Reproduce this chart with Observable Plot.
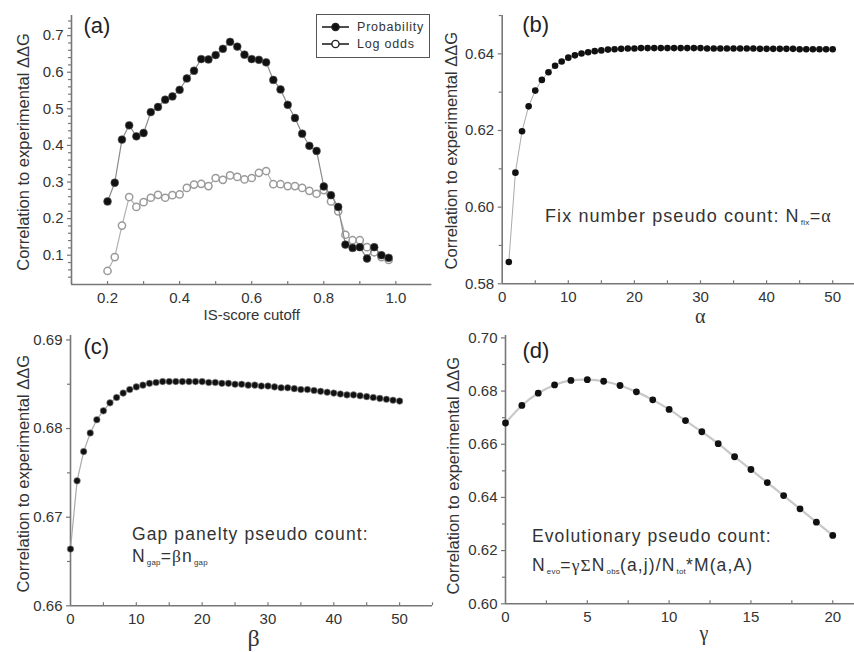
<!DOCTYPE html>
<html><head><meta charset="utf-8">
<script src="https://cdn.jsdelivr.net/npm/d3@7"></script>
<script src="https://cdn.jsdelivr.net/npm/@observablehq/plot@0.6"></script>
<style>
body{margin:0;background:#fff;}
#wrap{position:relative;width:854px;height:652px;overflow:hidden;background:#fff;font-family:"Liberation Sans",Arial,sans-serif;color:#333;}
.panel{position:absolute;}
.panel svg{background:transparent;overflow:visible;display:block;}
.note{position:absolute;white-space:nowrap;line-height:1;color:#333;letter-spacing:1.1px;}
.note sub{font-size:0.45em;vertical-align:baseline;position:relative;top:0.3em;margin-left:1px;letter-spacing:0.3px;}
.greek{font-family:"Liberation Serif","DejaVu Serif",serif;}
#legend{position:absolute;left:316px;top:14px;width:114px;height:44px;border:1px solid #555;box-sizing:border-box;font-size:12.5px;letter-spacing:0.8px;color:#333;}
#legend .row{position:absolute;left:5px;height:14px;line-height:14px;display:flex;align-items:center;}
#legend svg{margin-right:8px;}
</style>
</head><body>
<div id="wrap"></div>
<script>
// ---------- Panel (a) data ----------
const isCutoff = [0.20,0.22,0.24,0.26,0.28,0.30,0.32,0.34,0.36,0.38,0.40,0.42,0.44,0.46,0.48,0.50,0.52,0.54,0.56,0.58,0.60,0.62,0.64,0.66,0.68,0.70,0.72,0.74,0.76,0.78,0.80,0.82,0.84,0.86,0.88,0.90,0.92,0.94,0.96,0.98];
const probability = [0.247,0.298,0.416,0.455,0.425,0.434,0.491,0.505,0.525,0.534,0.552,0.583,0.604,0.636,0.635,0.647,0.664,0.683,0.670,0.648,0.636,0.634,0.627,0.579,0.553,0.511,0.475,0.432,0.399,0.385,0.288,0.264,0.232,0.129,0.120,0.122,0.091,0.122,0.100,0.093];
const logOdds = [0.057,0.095,0.181,0.259,0.232,0.245,0.257,0.265,0.257,0.264,0.266,0.284,0.293,0.295,0.289,0.311,0.306,0.318,0.314,0.307,0.311,0.325,0.330,0.294,0.294,0.289,0.289,0.284,0.276,0.268,0.278,0.247,0.220,0.156,0.141,0.141,0.122,0.108,0.095,0.087];
const seriesNames = ["Probability","Log odds"];

// ---------- Panel (b) data ----------
const alphaX = [1,2,3,4,5,6,7,8,9,10,11,12,13,14,15,16,17,18,19,20,21,22,23,24,25,26,27,28,29,30,31,32,33,34,35,36,37,38,39,40,41,42,43,44,45,46,47,48,49,50];
const alphaCorr = [0.5857,0.6090,0.6198,0.6263,0.6304,0.6332,0.6352,0.6369,0.6380,0.6390,0.6396,0.6401,0.6404,0.6407,0.6409,0.6411,0.6412,0.6413,0.6414,0.6414,0.6415,0.6415,0.6415,0.6415,0.6415,0.6415,0.6415,0.6415,0.6415,0.6415,0.6414,0.6414,0.6414,0.6414,0.6414,0.6414,0.6414,0.6414,0.6413,0.6413,0.6413,0.6413,0.6413,0.6413,0.6412,0.6412,0.6412,0.6412,0.6412,0.6412];

// ---------- Panel (c) data ----------
const betaX = [0,1,2,3,4,5,6,7,8,9,10,11,12,13,14,15,16,17,18,19,20,21,22,23,24,25,26,27,28,29,30,31,32,33,34,35,36,37,38,39,40,41,42,43,44,45,46,47,48,49,50];
const betaCorr = [0.6664,0.6741,0.6774,0.6795,0.6810,0.6820,0.6829,0.6835,0.6840,0.6844,0.6847,0.6849,0.6851,0.6852,0.6853,0.6853,0.6853,0.6853,0.6853,0.6853,0.6853,0.6852,0.6852,0.6851,0.6851,0.6850,0.6850,0.6849,0.6849,0.6848,0.6848,0.6847,0.6846,0.6846,0.6845,0.6844,0.6844,0.6843,0.6842,0.6841,0.6840,0.6839,0.6838,0.6838,0.6837,0.6836,0.6835,0.6834,0.6833,0.6832,0.6831];

// ---------- Panel (d) data ----------
const gammaX = [0,1,2,3,4,5,6,7,8,9,10,11,12,13,14,15,16,17,18,19,20];
const gammaCorr = [0.6680,0.6746,0.6792,0.6823,0.6840,0.6843,0.6837,0.6821,0.6797,0.6767,0.6731,0.6689,0.6647,0.6602,0.6553,0.6505,0.6456,0.6407,0.6357,0.6307,0.6257];

// ---------- Tick labels ----------
const aTicksX = [0.2,0.4,0.6,0.8,1.0];
const aMinorX = [0.1,0.2,0.3,0.4,0.5,0.6,0.7,0.8,0.9,1.0];
const aTicksY = [0.1,0.2,0.3,0.4,0.5,0.6,0.7];
const aMinorY = [0.04,0.06,0.08,0.12,0.14,0.16,0.18,0.22,0.24,0.26,0.28,0.32,0.34,0.36,0.38,0.42,0.44,0.46,0.48,0.52,0.54,0.56,0.58,0.62,0.64,0.66,0.68,0.72,0.74];
const bTicksX = [0,10,20,30,40,50];
const bMinorX = [5,10,15,20,25,30,35,40,45,50];
const bTicksY = [0.58,0.60,0.62,0.64];
const bMinorY = [0.59,0.61,0.63,0.65];
const cTicksX = [0,10,20,30,40,50];
const cMinorX = [5,10,15,20,25,30,35,40,45,50,55];
const cTicksY = [0.66,0.67,0.68,0.69];
const cMinorY = [0.665,0.675,0.685];
const dTicksX = [0,5,10,15,20];
const dMinorX = [2.5,5,7.5,10,12.5,15,17.5,20];
const dTicksY = [0.60,0.62,0.64,0.66,0.68,0.70];
const dMinorY = [0.61,0.63,0.65,0.67,0.69];

const yLabel = "Correlation to experimental \u0394\u0394G";
const FONT = '"Liberation Sans", Arial, sans-serif';
const SERIF = '"Liberation Serif", "DejaVu Serif", serif';
const AX = "#777";

function frameAxes(o) {
  const [x0] = o.xDomain, [y0] = o.yDomain;
  return [
    Plot.axisY(o.minorY, {tickSize: 3, fill: "none", stroke: AX, strokeWidth: 1.2}),
    Plot.axisY(o.ticksY, {tickSize: 4, tickPadding: 4, tickFormat: o.fmtY, stroke: AX, strokeWidth: 1.2, fill: "#333", label: null}),
    Plot.axisX(o.minorX, {tickSize: -3, fill: "none", stroke: AX, strokeWidth: 1.2}),
    Plot.axisX(o.ticksX, {tickSize: 0, tickPadding: 8, tickFormat: o.fmtX, fill: "#333", label: null}),
    Plot.ruleX([x0], {stroke: AX, strokeWidth: 1.6}),
    Plot.ruleY([y0], {stroke: AX, strokeWidth: 1.6}),
    Plot.text([yLabel], {frameAnchor: "left", dx: o.ylx, dy: o.yly, rotate: -90, textAnchor: "middle", lineAnchor: "middle", fontSize: 16.5, fill: "#333", text: d => d, style: "letter-spacing:0.3px"}),
    Plot.text([o.xLabel], {frameAnchor: "bottom", dx: o.xlx, dy: o.xly, textAnchor: "middle", lineAnchor: "middle", fontSize: o.xlSize, fontFamily: o.xlFont, fill: "#333", text: d => d, style: "letter-spacing:0.5px"}),
    Plot.text([o.tag], {frameAnchor: "top-left", dx: o.tagx, dy: o.tagy, textAnchor: "start", lineAnchor: "middle", fontSize: 22, fill: "#222", text: d => d})
  ];
}

function place(node, left, top) {
  const div = document.createElement("div");
  div.className = "panel";
  div.style.left = left + "px";
  div.style.top = top + "px";
  div.appendChild(node);
  document.getElementById("wrap").appendChild(div);
}

// ----- Panel (a)
const probData = isCutoff.map((x, i) => ({x, y: probability[i], s: seriesNames[0]}));
const logData = isCutoff.map((x, i) => ({x, y: logOdds[i], s: seriesNames[1]}));
const optA = {xDomain: [0.1, 1.1], yDomain: [0.02, 0.755], ticksX: aTicksX, minorX: aMinorX, ticksY: aTicksY, minorY: aMinorY,
  fmtX: ".1f", fmtY: ".1f", xLabel: "IS-score cutoff", xlx: 0, xly: 31, xlSize: 15, xlFont: FONT, ylx: -48, yly: 2, tag: "(a)", tagx: 12, tagy: 10};
place(Plot.plot({
  width: 435, height: 320, marginLeft: 71, marginRight: 3.6, marginTop: 15, marginBottom: 36,
  x: {domain: optA.xDomain}, y: {domain: optA.yDomain},
  style: {fontFamily: FONT, fontSize: "15px", color: "#333", background: "transparent"},
  marks: [
    ...frameAxes(optA),
    Plot.line(logData, {x: "x", y: "y", stroke: "#b0b0b0", strokeWidth: 1.2}),
    Plot.dot(logData, {x: "x", y: "y", r: 3.6, fill: "white", stroke: "#9a9a9a", strokeWidth: 1.5}),
    Plot.line(probData, {x: "x", y: "y", stroke: "#8a8a8a", strokeWidth: 1.2}),
    Plot.dot(probData, {x: "x", y: "y", r: 3.9, fill: "#111", stroke: "#555", strokeWidth: 0.6})
  ]
}), 0, 0);

// ----- Panel (b)
const bData = alphaX.map((x, i) => ({x, y: alphaCorr[i]}));
const optB = {xDomain: [0, 53.3], yDomain: [0.58, 0.65], ticksX: bTicksX, minorX: bMinorX, ticksY: bTicksY, minorY: bMinorY,
  fmtX: "d", fmtY: ".2f", xLabel: "\u03b1", xlx: 22, xly: 33, xlSize: 20, xlFont: SERIF, ylx: -50, yly: 1, tag: "(b)", tagx: 20, tagy: 9};
place(Plot.plot({
  width: 424, height: 320, marginLeft: 71.7, marginRight: 0, marginTop: 15, marginBottom: 36.7,
  x: {domain: optB.xDomain}, y: {domain: optB.yDomain},
  style: {fontFamily: FONT, fontSize: "15px", color: "#333", background: "transparent"},
  marks: [
    ...frameAxes(optB),
    Plot.line(bData, {x: "x", y: "y", stroke: "#aaa", strokeWidth: 1}),
    Plot.dot(bData, {x: "x", y: "y", r: 3.3, fill: "#111"})
  ]
}), 430, 0);

// ----- Panel (c)
const cData = betaX.map((x, i) => ({x, y: betaCorr[i]}));
const optC = {xDomain: [0, 55], yDomain: [0.66, 0.6905], ticksX: cTicksX, minorX: cMinorX, ticksY: cTicksY, minorY: cMinorY,
  fmtX: "d", fmtY: ".2f", xLabel: "\u03b2", xlx: 2, xly: 33, xlSize: 24, xlFont: SERIF, ylx: -47, yly: 3, tag: "(c)", tagx: 13, tagy: 11};
place(Plot.plot({
  width: 435, height: 332, marginLeft: 70, marginRight: 3, marginTop: 15, marginBottom: 46.7,
  x: {domain: optC.xDomain}, y: {domain: optC.yDomain},
  style: {fontFamily: FONT, fontSize: "15px", color: "#333", background: "transparent"},
  marks: [
    ...frameAxes(optC),
    Plot.line(cData, {x: "x", y: "y", stroke: "#aaa", strokeWidth: 1.2}),
    Plot.dot(cData, {x: "x", y: "y", r: 3.3, fill: "#111", stroke: "#999", strokeWidth: 0.6})
  ]
}), 0, 320);

// ----- Panel (d)
const dData = gammaX.map((x, i) => ({x, y: gammaCorr[i]}));
const optD = {xDomain: [0, 21.33], yDomain: [0.60, 0.7009], ticksX: dTicksX, minorX: dMinorX, ticksY: dTicksY, minorY: dMinorY,
  fmtX: "d", fmtY: ".2f", xLabel: "\u03b3", xlx: 24, xly: 30, xlSize: 20, xlFont: SERIF, ylx: -52, yly: 6, tag: "(d)", tagx: 17, tagy: 15};
place(Plot.plot({
  width: 424, height: 332, marginLeft: 75, marginRight: 0, marginTop: 15, marginBottom: 48.7,
  x: {domain: optD.xDomain}, y: {domain: optD.yDomain},
  style: {fontFamily: FONT, fontSize: "15px", color: "#333", background: "transparent"},
  marks: [
    ...frameAxes(optD),
    Plot.line(dData, {x: "x", y: "y", stroke: "#c8c8c8", strokeWidth: 2.2, curve: "natural"}),
    Plot.dot(dData, {x: "x", y: "y", r: 3.4, fill: "#111"})
  ]
}), 430, 320);

// ----- Legend (panel a)
const wrap = document.getElementById("wrap");
const legend = document.createElement("div");
legend.id = "legend";
seriesNames.forEach((name, i) => {
  const row = document.createElement("div");
  row.className = "row";
  row.style.top = (i === 0 ? 12 : 28.5) - 7 + "px";
  const filled = i === 0;
  row.innerHTML = `<svg width="27" height="10" viewBox="0 0 27 10"><line x1="0" y1="5" x2="27" y2="5" stroke="#222" stroke-width="1.6"/><circle cx="13.5" cy="5" r="3.6" fill="${filled ? "#111" : "#fff"}" stroke="#222" stroke-width="1.4"/></svg><span>${name}</span>`;
  legend.appendChild(row);
});
wrap.appendChild(legend);

// ----- Annotations
function note(html, left, baseline, size) {
  const d = document.createElement("div");
  d.className = "note";
  d.style.fontSize = size + "px";
  d.style.left = left + "px";
  d.style.top = (baseline - 0.8465 * size) + "px";
  d.innerHTML = html;
  wrap.appendChild(d);
}
note('Fix number pseudo count: N<sub>fix</sub>=<span class="greek">\u03b1</span>', 545, 222.7, 18);
note('Gap panelty pseudo count:', 132, 541.2, 17.5);
note('N<sub>gap</sub>=<span class="greek">\u03b2</span>n<sub>gap</sub>', 132, 563, 17.5);
note('Evolutionary pseudo count:', 532, 542.5, 17.5);
note('N<sub>evo</sub>=<span class="greek">\u03b3\u03a3</span>N<sub>obs</sub>(a,j)/N<sub>tot</sub>*M(a,A)', 532, 572, 17.5);
</script>
</body></html>
